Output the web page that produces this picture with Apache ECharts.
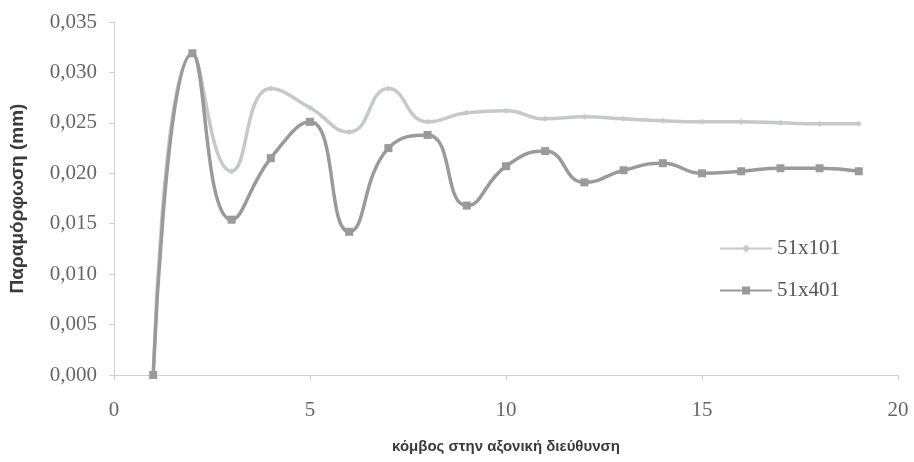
<!DOCTYPE html>
<html><head><meta charset="utf-8">
<script src="https://cdn.jsdelivr.net/npm/echarts@6/dist/echarts.min.js"></script>
<style>html,body{margin:0;padding:0;background:#fff}#c{width:914px;height:462px}</style>
</head><body><div id="c"></div>
<script>
const nodes = [1,2,3,4,5,6,7,8,9,10,11,12,13,14,15,16,17,18,19];
const s51x101 = [0,0.0318,0.0202,0.0284,0.0265,0.0241,0.0284,0.0251,0.0260,0.0262,0.0254,0.0256,0.0254,0.0252,0.0251,0.0251,0.0250,0.0249,0.0249];
const s51x401 = [0,0.0319,0.0154,0.0215,0.0251,0.0142,0.0225,0.0238,0.0168,0.0207,0.0222,0.0191,0.0203,0.0210,0.0200,0.0202,0.0205,0.0205,0.0202];
const xTicks = [0,5,10,15,20];
const yTicks = [0,0.005,0.010,0.015,0.020,0.025,0.030,0.035];

const chart = echarts.init(document.getElementById('c'));
const pairs = arr => nodes.map((x,i)=>[x,arr[i]]);
chart.setOption({
  animation:false,
  grid:{left:114,right:16,top:22,bottom:87,containLabel:false,outerBoundsMode:'none'},
  legend:{
    orient:'vertical', left:714, top:233, itemGap:21, itemWidth:52, itemHeight:10,
    textStyle:{fontFamily:'Liberation Serif', fontSize:21, color:'#555'},
    data:['51x101','51x401']
  },
  xAxis:{
    type:'value', min:xTicks[0], max:xTicks[xTicks.length-1], interval:5,
    name:'κόμβος στην αξονική διεύθυνση', nameLocation:'middle', nameGap:64,
    nameTextStyle:{fontFamily:'Liberation Sans', fontWeight:'bold', fontSize:15, color:'#3a3a3a'},
    axisLine:{show:true, onZero:false, lineStyle:{color:'#d0d0d0'}},
    axisTick:{show:true, length:5, lineStyle:{color:'#d0d0d0'}},
    axisLabel:{fontFamily:'Liberation Serif', fontSize:21, color:'#666', margin:25},
    splitLine:{show:false}
  },
  yAxis:{
    type:'value', min:yTicks[0], max:yTicks[yTicks.length-1], interval:0.005,
    name:'Παραμόρφωση (mm)', nameLocation:'middle', nameGap:87, nameRotate:90,
    nameTextStyle:{fontFamily:'Liberation Sans', fontWeight:'bold', fontSize:19, color:'#3a3a3a'},
    axisLine:{show:true, lineStyle:{color:'#d0d0d0'}},
    axisTick:{show:true, length:5, lineStyle:{color:'#d0d0d0'}},
    axisLabel:{fontFamily:'Liberation Serif', fontSize:21, color:'#666', margin:17,
      formatter:v=>v.toFixed(3).replace('.',',')},
    splitLine:{show:false}
  },
  series:[
    {name:'51x101', type:'line', smooth:0.5, data:pairs(s51x101),
      symbol:'diamond', symbolSize:6,
      lineStyle:{color:'#c6c8cb', width:3.5}, itemStyle:{color:'#c6c8cb'}},
    {name:'51x401', type:'line', smooth:0.5, data:pairs(s51x401),
      symbol:'rect', symbolSize:8,
      lineStyle:{color:'#9a9a9c', width:3.5}, itemStyle:{color:'#9a9a9c'}}
  ]
});
</script></body></html>
